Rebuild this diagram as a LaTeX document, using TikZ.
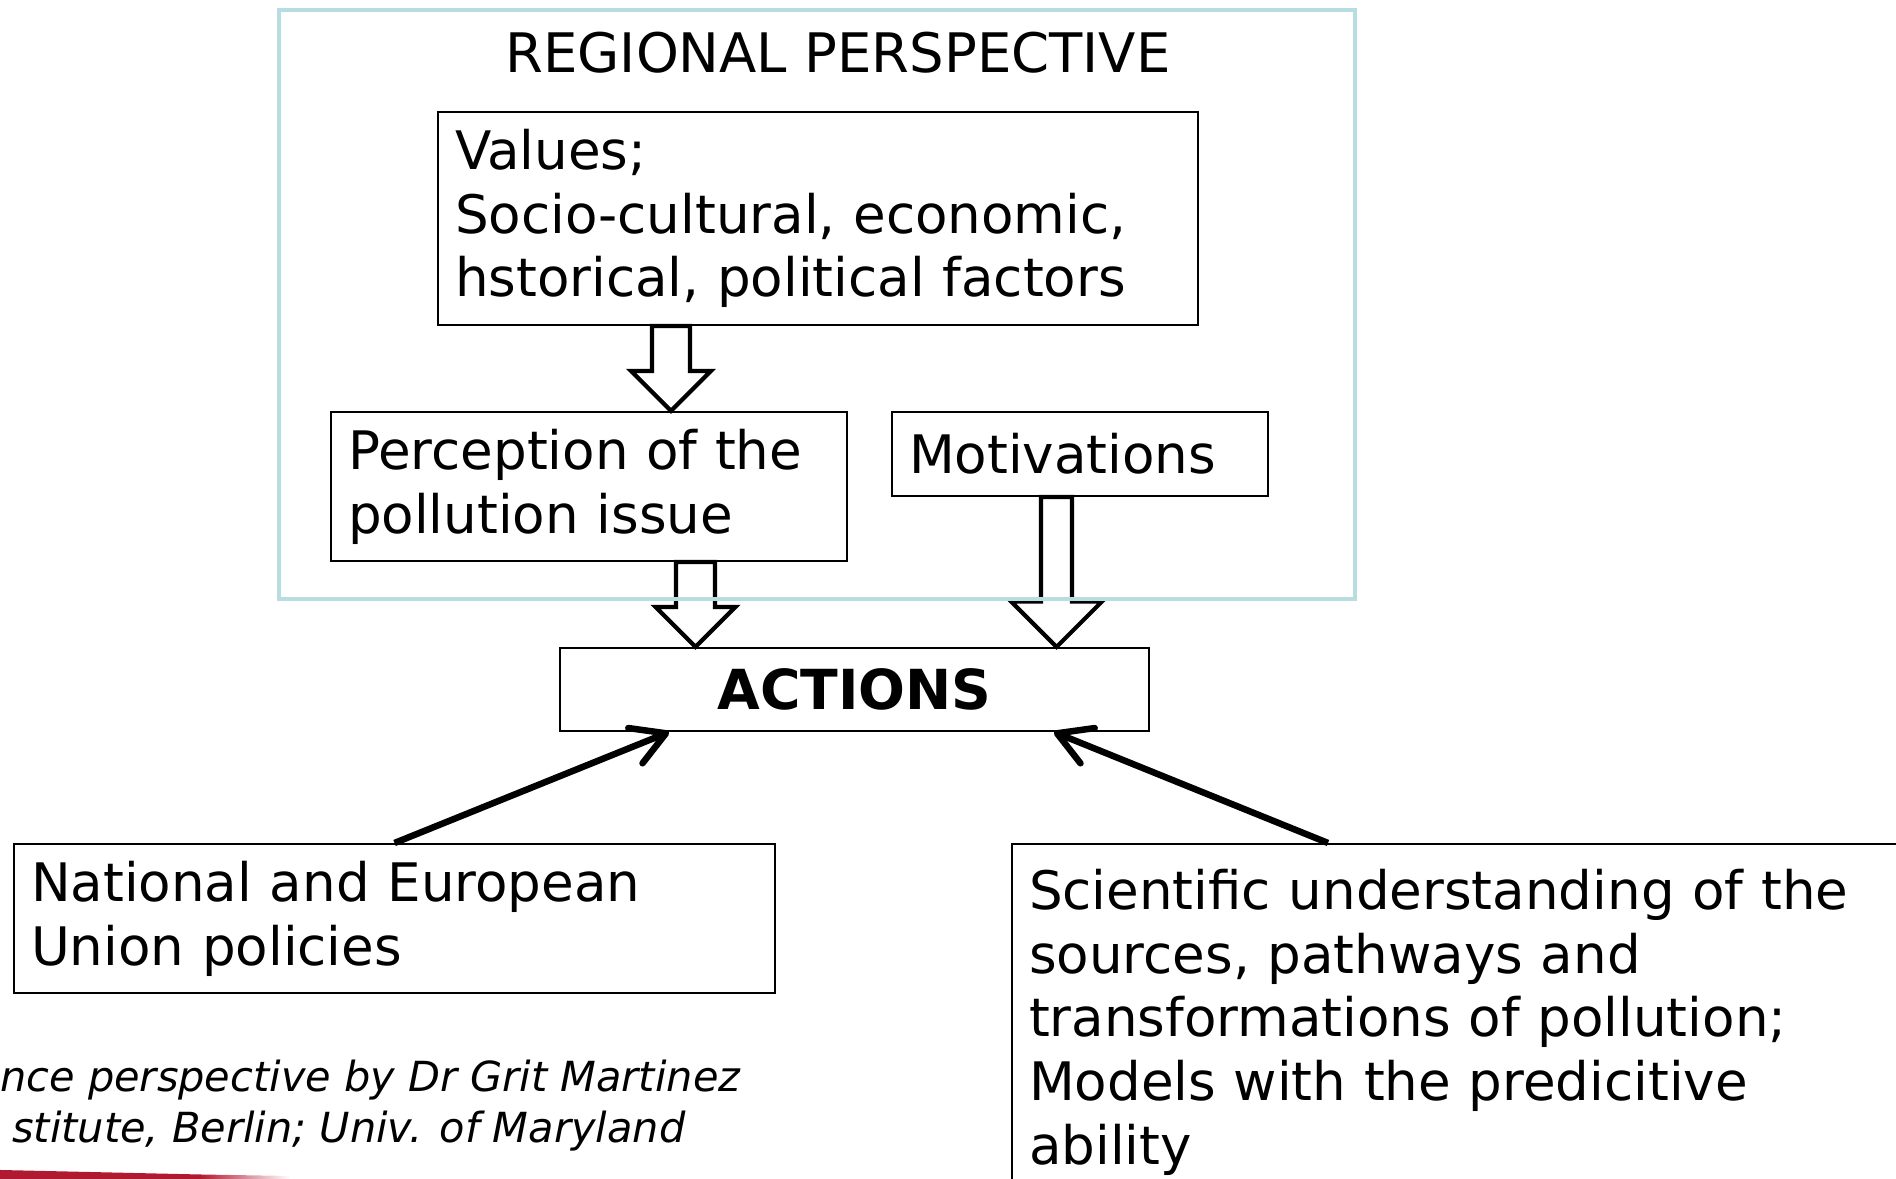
\documentclass[tikz,border=0pt]{standalone}
\usepackage{fontspec}
\setmainfont{DejaVu Sans}
\usetikzlibrary{arrows.meta}
\definecolor{framecol}{RGB}{183,221,225}
\definecolor{barred}{RGB}{176,26,48}

\begin{document}
\begin{tikzpicture}[>={Straight Barb[length=3.3mm,width=3.8mm,round]},
    box/.style={draw, line width=0.6pt, anchor=north west, align=left,
        inner xsep=0.17cm, font=\fontsize{15.1}{18.15}\selectfont},
    hollow/.style={draw, fill=white, line width=1.2pt},
    push/.style={->, line width=1.85pt}]
    \useasboundingbox (0,0) rectangle (18.96,11.79);
    % regional boxes
    \node[font=\fontsize{15.5}{18}\selectfont, anchor=base] (title) at (8.38,11.06) {REGIONAL PERSPECTIVE};
    \node[box, minimum width=7.60cm, minimum height=2.13cm, text width=7.26cm] (values) at (4.37,10.68)
        {Values;\\Socio-cultural, economic,\\hstorical, political factors};
    \node[box, minimum width=5.16cm, minimum height=1.49cm, text width=4.82cm] (percep) at (3.30,7.68)
        {Perception of the\\pollution issue};
    \node[box, minimum width=3.76cm, minimum height=0.84cm, text width=3.42cm] (motiv) at (8.91,7.68)
        {Motivations};
    \node[box, align=center, minimum width=5.89cm, minimum height=0.83cm,
        font=\bfseries\fontsize{15.7}{18}\selectfont] (actions) at (5.59,5.32) {ACTIONS};
    % outside influences
    \node[box, minimum width=7.61cm, minimum height=1.49cm, text width=7.27cm] (national) at (0.13,3.36)
        {National and European\\Union policies};
    \node[box, inner ysep=0.25cm, text width=9.2cm] (sci) at (10.11,3.36)
        {Scientific understanding of the\\sources, pathways and\\transformations of pollution;\\Models with the predicitive\\ability};
    % hollow arrows
    \foreach \x/\a/\b/\s/\h in {6.71/values/percep/0.19/0.40, 6.955/percep/actions/0.195/0.40, 10.565/motiv/actions/0.155/0.455}
        \draw[hollow] (\x,0 |- \b.north) -- ++(-\h,\h) coordinate (l) -- ++(\h-\s,0)
            -- (\x-\s,0 |- \a.south) -- (\x+\s,0 |- \a.south) |- (l -| \x+\h,0) -- cycle;
    \draw[framecol, line width=1.4pt] (2.79,11.69) rectangle (13.55,5.80);
    % thick arrows
    \draw[push] (national.north) -- (6.69,0 |- actions.south);
    \draw[push] (13.28,0 |- sci.north) -- (10.54,0 |- actions.south);
    % credit and bar
    \node[anchor=base east, inner sep=0, font=\itshape\fontsize{11.8}{14.5}\selectfont] (credit1) at (7.41,0.87)
        {nce perspective by Dr Grit Martinez};
    \node[anchor=base east, inner sep=0, font=\itshape\fontsize{11.8}{14.5}\selectfont] (credit2) at (6.86,0.36)
        {stitute, Berlin; Univ. of Maryland};
    \fill[barred] (0,0.09) -- (2.0,0.045) -- (2.0,0) -- (0,0) -- cycle;
    \shade[left color=barred, right color=white] (2.0,0.045) -- (2.9,0.03) -- (2.9,0) -- (2.0,0) -- cycle;
\end{tikzpicture}
\end{document}
